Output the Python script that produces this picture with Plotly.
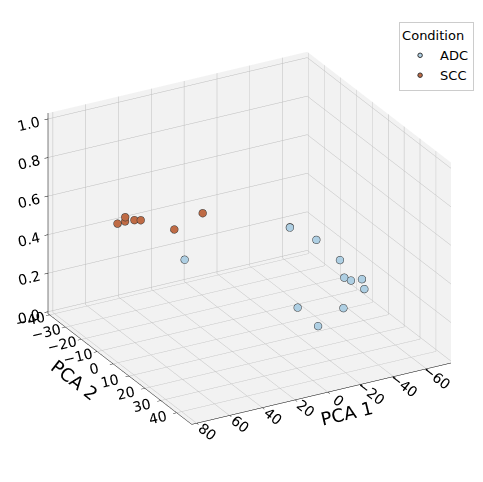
import plotly.graph_objects as go

# PCA coordinates per sample (z is the third plotted value, 0..1)
conditions = ["SCC"] * 7 + ["ADC"] * 12
pca1 = [61.4, 53.9, 50.7, 51.4, 48.5, 26.8, 21.2,
        11.1, -57.4, -57.6, -62.3, -66.9, -64.1, -65.5, -69.1, -68.9, -30.1, -51.1, -28.4]
pca2 = [-19.6, -22.5, -25.9, -19.3, -18.3, -19.6, -7.5,
        -29.3, -33.8, -34.0, -22.2, -12.1, -6.5, -3.7, -0.5, 1.2, -0.7, 6.4, 13.9]
pcz = [0.55, 0.55, 0.50, 0.55, 0.55, 0.45, 0.60,
       0.20, 0.20, 0.20, 0.20, 0.15, 0.10, 0.10, 0.12, 0.08, 0.05, 0.05, 0.05]

groups = ["ADC", "SCC"]
group_colors = {"ADC": "#aecfe3", "SCC": "#bf6b45"}

FONT = "DejaVu Sans, sans-serif"

fig = go.Figure()
for g in groups:
    idx = [i for i, c in enumerate(conditions) if c == g]
    fig.add_trace(go.Scatter3d(
        x=[pca1[i] for i in idx],
        y=[pca2[i] for i in idx],
        z=[pcz[i] for i in idx],
        mode="markers",
        name=g,
        marker=dict(size=4.5, color=group_colors[g], line=dict(color="#333333", width=1)),
    ))


def axis_style(title, rng, dtick, fmt=None):
    d = dict(
        title=dict(text=title, font=dict(size=18, family=FONT, color="black")),
        range=rng,
        dtick=dtick,
        showbackground=True,
        backgroundcolor="#f2f2f2",
        gridcolor="#bdbdbd",
        gridwidth=1,
        showline=True,
        linecolor="black",
        linewidth=1,
        ticks="outside",
        tickcolor="black",
        ticklen=4,
        zeroline=False,
        showspikes=False,
        tickfont=dict(size=13, family=FONT, color="black"),
    )
    if fmt:
        d["tickformat"] = fmt
    return d


fig.update_layout(
    width=483,
    height=482,
    margin=dict(l=0, r=0, t=0, b=0),
    paper_bgcolor="white",
    font=dict(family=FONT, color="black"),
    scene=dict(
        xaxis=axis_style("PCA 1", [-75, 83], 20),
        yaxis=axis_style("PCA 2", [-41, 49.5], 10),
        zaxis=axis_style("", [-0.01, 1.03], 0.2, ".1f"),
        aspectmode="manual",
        aspectratio=dict(x=1.23, y=1.23, z=0.92),
        camera=dict(
            eye=dict(x=0.886, y=1.598, z=0.813),
            center=dict(x=0, y=0, z=-0.05),
            projection=dict(type="orthographic"),
        ),
    ),
    legend=dict(
        title=dict(text="Condition", side="top", font=dict(size=13, family=FONT)),
        x=0.965, y=0.97, xanchor="right", yanchor="top",
        bgcolor="white", bordercolor="#cccccc", borderwidth=1,
        font=dict(size=13, family=FONT),
    ),
)

fig.write_html("out.html")
